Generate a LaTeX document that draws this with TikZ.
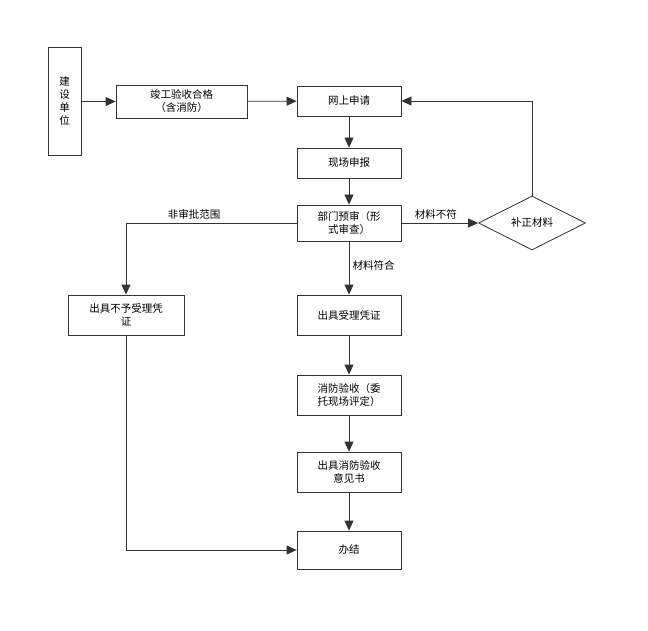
\documentclass[tikz,border=0pt]{standalone}
\usepackage{fontspec}
\setmainfont{Noto Sans CJK SC}
\usetikzlibrary{positioning,arrows.meta,shapes.geometric}
\begin{document}
\begin{tikzpicture}[
        x=1pt, y=-1pt,
        font=\fontsize{10.5}{13}\selectfont,
        block/.style = {rectangle, draw=black!80, thick, text width=92pt, align=center, minimum width=104pt, inner sep=2pt},
        line/.style = {draw=black!80, thick, -{Triangle[length=10pt,width=9pt]}},
        lbl/.style = {font=\fontsize{10.5}{13}\selectfont}
    ]
    \useasboundingbox (0,0) rectangle (648,631);

    \node [rectangle, draw=black!80, thick, minimum width=33pt, minimum height=108pt, align=center] (owner) at (64.5,101) {建\\设\\单\\位};
    \node [block, minimum width=131pt, text width=120pt, minimum height=33pt] (accept) at (181.5,101.5) {竣工验收合格\\（含消防）};
    \node [block, minimum height=30pt] (apply) at (349,101) {网上申请};
    \node [block, minimum height=30pt] (report) at (349,163) {现场申报};
    \node [block, minimum height=36pt] (precheck) at (349,223) {部门预审（形\\式审查）};
    \node [diamond, draw=black!80, thick, aspect=2, minimum width=107pt, minimum height=54pt, inner sep=0pt] (supply) at (532,223) {补正材料};
    \node [block, minimum width=116pt, text width=108pt, minimum height=40pt] (reject) at (126,315) {出具不予受理凭\\证};
    \node [block, minimum height=40pt] (receipt) at (349,315) {出具受理凭证};
    \node [block, minimum height=40pt] (fire) at (349,395) {消防验收（委\\托现场评定）};
    \node [block, minimum height=40pt] (opinion) at (349,472) {出具消防验收\\意见书};
    \node [block, minimum height=38pt] (done) at (349,550) {办结};

    \path [line] (owner.east |- accept) -- (accept);
    \path [line] (accept) -- (apply);
    \path [line] (apply) -- (report);
    \path [line] (report) -- (precheck);
    \path [line] (precheck) -- node [above, lbl, pos=0.45] {材料不符} (supply);
    \path [line] (supply.north) |- (apply.east);
    \path [line] (precheck.west) -| node [pos=0.3, above, lbl] {非审批范围} (reject.north);
    \path [line] (precheck) -- node [right, lbl, pos=0.45] {材料符合} (receipt);
    \path [line] (receipt) -- (fire);
    \path [line] (fire) -- (opinion);
    \path [line] (opinion) -- (done);
    \path [line] (reject.south) |- (done.west);

\end{tikzpicture}
\end{document}
